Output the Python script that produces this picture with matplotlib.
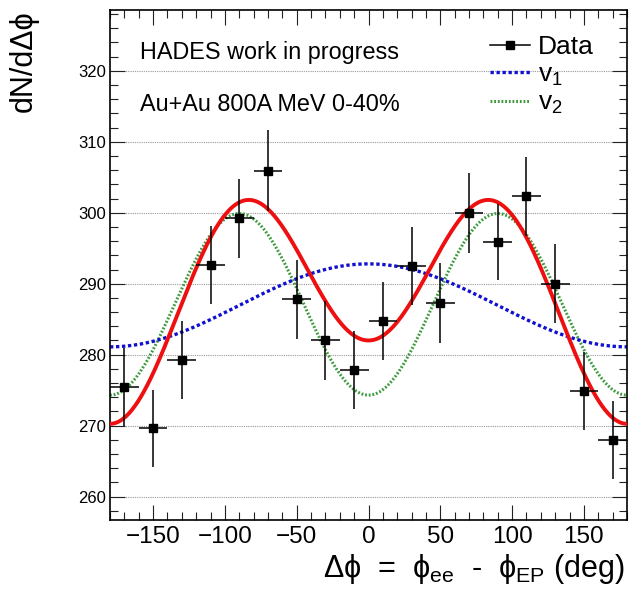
import numpy as np
import matplotlib
matplotlib.use("Agg")
import matplotlib.pyplot as plt
from matplotlib.lines import Line2D
from matplotlib.ticker import MultipleLocator

plt.rcParams['font.family'] = ['Liberation Sans', 'DejaVu Sans']

# data points (bin centres, counts, errors)
dphi = [-170, -150, -130, -110, -90, -70, -50, -30, -10,
        10, 30, 50, 70, 90, 110, 130, 150, 170]
counts = [275.5, 269.6, 279.3, 292.7, 299.2, 305.9, 287.8, 282.0, 277.9,
          284.8, 292.5, 287.3, 300.0, 295.9, 302.3, 290.0, 274.9, 268.0]
count_err = [5.5, 5.4, 5.5, 5.5, 5.6, 5.7, 5.6, 5.6, 5.5,
             5.5, 5.5, 5.6, 5.6, 5.4, 5.6, 5.6, 5.5, 5.5]
bin_halfwidth = 10

# fit parameters: N0 * (1 + 2 v1 cos(dphi) + 2 v2 cos(2 dphi))
fit_N0, fit_v1, fit_v2 = 288.8, 0.01017, -0.02194
v1_N0, v1_only = 286.95, 0.01019
v2_N0, v2_only = 287.1, -0.02229

phi = np.linspace(-180, 180, 721)
rad = np.deg2rad(phi)
total = fit_N0 * (1 + 2 * fit_v1 * np.cos(rad) + 2 * fit_v2 * np.cos(2 * rad))
comp1 = v1_N0 * (1 + 2 * v1_only * np.cos(rad))
comp2 = v2_N0 * (1 + 2 * v2_only * np.cos(2 * rad))

fig = plt.figure(figsize=(6.33, 6.05), dpi=100)
ax = fig.add_axes([110 / 633, 1 - 520 / 605, 517 / 633, 510.5 / 605])

ax.set_xlim(-180, 180)
ax.set_ylim(256.7, 328.65)

ax.yaxis.grid(True, which='major', color='#9a9a9a', linestyle=(0, (1, 1)), linewidth=0.8)
ax.set_axisbelow(True)

ax.plot(phi, comp2, color='#3f9a3f', linestyle=(0, (0.6, 0.6)), linewidth=2.2, zorder=2)
ax.plot(phi, comp1, color='#1010d0', linestyle=(0, (1, 0.8)), linewidth=2.4, zorder=2)
ax.plot(phi, total, color='#ee1010', linewidth=2.8, zorder=3)

ax.errorbar(dphi, counts, yerr=count_err, xerr=bin_halfwidth, fmt='s', color='black',
            markersize=5.8, elinewidth=1.1, capsize=0, zorder=4)

ax.xaxis.set_major_locator(MultipleLocator(50))
ax.xaxis.set_minor_locator(MultipleLocator(10))
ax.yaxis.set_major_locator(MultipleLocator(10))
ax.yaxis.set_minor_locator(MultipleLocator(2))
ax.tick_params(which='both', direction='in', top=True, right=True, width=0.8, color='#222222')
ax.tick_params(which='major', length=10.5)
ax.tick_params(which='minor', length=6)
ax.tick_params(axis='x', labelsize=17.5, pad=4.5)
ax.tick_params(axis='y', labelsize=12, pad=3)
for s in ax.spines.values():
    s.set_linewidth(1.2)

fig.text(625 / 633, 1 - 577 / 605,
         'Δϕ  =  ϕ$_\\mathregular{ee}$  -  ϕ$_\\mathregular{EP}$ (deg)',
         ha='right', va='baseline', fontsize=22)
fig.text(24 / 633, 1 - 10 / 605, 'dN/dΔϕ', rotation=90, ha='center', va='top',
         fontsize=22)

fig.text(140 / 633, 1 - 59.3 / 605, 'HADES work in progress', fontsize=16.8, va='baseline')
fig.text(140 / 633, 1 - 110.7 / 605, 'Au+Au 800A MeV 0-40%', fontsize=16.8, va='baseline')

handles = [Line2D([], [], color='black', marker='s', markersize=5.8, linewidth=1.1),
           Line2D([], [], color='#1010d0', linestyle=(0, (1, 0.8)), linewidth=2.4),
           Line2D([], [], color='#3f9a3f', linestyle=(0, (0.6, 0.6)), linewidth=2.2)]
labels = ['Data', 'v$_\\mathregular{1}$', 'v$_\\mathregular{2}$']
ax.legend(handles, labels, loc='upper left', bbox_to_anchor=(490 / 633, 1 - 35 / 605),
          bbox_transform=fig.transFigure, frameon=False, fontsize=19,
          handlelength=1.5, handletextpad=0.3, labelspacing=0.12,
          borderpad=0, borderaxespad=0)

fig.savefig('out.png', dpi=100)
